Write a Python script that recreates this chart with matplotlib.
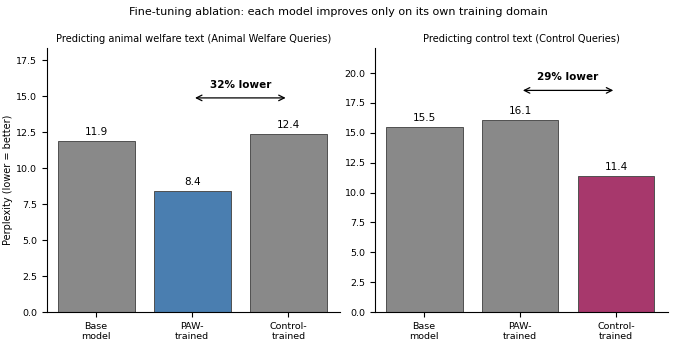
import numpy as np
import matplotlib.pyplot as plt

labels = ['Base\nmodel', 'PAW-\ntrained', 'Control-\ntrained']
animal_vals = [11.9, 8.4, 12.4]
control_vals = [15.5, 16.1, 11.4]
animal_colors = ['#898989', '#4a7eb0', '#898989']
control_colors = ['#898989', '#898989', '#a7386c']

fig = plt.figure(figsize=(6.76, 3.42), dpi=100)
ax1 = fig.add_axes([0.0695, 0.0877, 0.434, 0.772])
ax2 = fig.add_axes([0.555, 0.0877, 0.433, 0.772])

def draw(ax, vals, colors, title, ylim, arrow_y, note):
    x = np.arange(len(vals))
    ax.bar(x, vals, width=0.8, color=colors, edgecolor='#505050', linewidth=0.7)
    for xi, v in zip(x, vals):
        ax.text(xi, v + ylim * 0.015, '{:.1f}'.format(v), ha='center', va='bottom', fontsize=7.5)
    ax.annotate('', xy=(2, arrow_y), xytext=(1, arrow_y),
                arrowprops=dict(arrowstyle='<->', color='black', lw=0.9))
    ax.text(1.5, arrow_y + ylim * 0.03, note, ha='center', va='bottom',
            fontsize=7.5, fontweight='bold')
    ax.set_xticks(x)
    ax.set_xticklabels(labels, fontsize=6.8)
    ax.tick_params(axis='y', labelsize=6.8)
    ax.set_ylim(0, ylim)
    ax.set_xlim(-0.51, 2.54)
    ax.set_title(title, fontsize=7.1, pad=4)
    ax.spines['top'].set_visible(False)
    ax.spines['right'].set_visible(False)

draw(ax1, animal_vals, animal_colors,
     'Predicting animal welfare text (Animal Welfare Queries)', 18.35, 14.88, '32% lower')
draw(ax2, control_vals, control_colors,
     'Predicting control text (Control Queries)', 22.1, 18.55, '29% lower')
ax1.set_ylabel('Perplexity (lower = better)', fontsize=7, labelpad=2)

fig.suptitle('Fine-tuning ablation: each model improves only on its own training domain',
             fontsize=8, y=0.98)
plt.savefig('out.png', dpi=100)
